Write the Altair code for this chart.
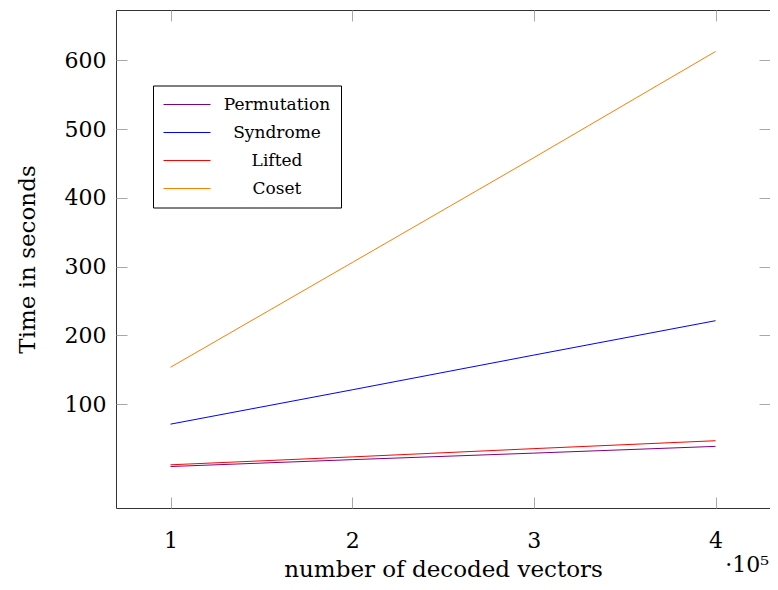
import altair as alt
import pandas as pd

# ---- data ----
vectors = [100000, 200000, 300000, 400000]
series_names = ["Permutation", "Syndrome", "Lifted", "Coset"]
permutation = [9.5, 19.5, 29.0, 38.8]
syndrome = [71.1, 121.0, 171.5, 221.5]
lifted = [12.0, 23.5, 35.5, 47.0]
coset = [153.8, 306.0, 458.5, 612.9]
series_colors = ["#800080", "#0000ff", "#ff0000", "#ff8000"]
x_ticks = [100000, 200000, 300000, 400000]
y_ticks = [100, 200, 300, 400, 500, 600]
x_multiplier = ["·10⁵"]

rows = []
for name, vals in zip(series_names, [permutation, syndrome, lifted, coset]):
    for v, t in zip(vectors, vals):
        rows.append({"vectors": v, "time": t, "series": name})
df = pd.DataFrame(rows)

W, H = 654, 498
PAD_L = 108
FONT = "'DejaVu Serif', 'Liberation Serif', serif"
TICK = "#a8a8a8"

x_scale = alt.Scale(domain=[70000, 430000], nice=False, zero=False)
y_scale = alt.Scale(domain=[-50.8, 673.2], nice=False, zero=False)

lines = alt.Chart(df).mark_line(strokeWidth=1).encode(
    x=alt.X(
        "vectors:Q",
        scale=x_scale,
        axis=alt.Axis(
            orient="bottom", values=x_ticks, labelExpr="datum.value / 100000",
            title="number of decoded vectors", offset=-11, tickSize=11,
            tickColor=TICK, domain=False, grid=False, labelPadding=39,
            labelBaseline="alphabetic", labelFont=FONT, labelFontSize=22,
            labelColor="black", titleFont=FONT, titleFontSize=23,
            titleFontWeight="normal", titleColor="black", titleY=79,
            titleBaseline="alphabetic",
        ),
    ),
    y=alt.Y(
        "time:Q",
        scale=y_scale,
        axis=alt.Axis(
            orient="left", values=y_ticks, title="Time in seconds",
            offset=-11, tickSize=11, tickColor=TICK, domain=False, grid=False,
            labelPadding=10, labelFont=FONT, labelFontSize=22,
            labelColor="black", titleFont=FONT, titleFontSize=23,
            titleFontWeight="normal", titleColor="black",
            titleX=27 - (8 + PAD_L + 11), titleY=H / 2,
            titleBaseline="middle", titleAlign="center",
        ),
    ),
    color=alt.Color(
        "series:N",
        scale=alt.Scale(domain=series_names, range=series_colors),
        sort=series_names,
        legend=alt.Legend(
            title=None, orient="none", legendX=37, legendY=75.5,
            direction="vertical", strokeColor="#000000", fillColor="white",
            padding=10, symbolType="stroke", symbolSize=2209,
            symbolStrokeWidth=1, labelFont=FONT, labelFontSize=17,
            labelColor="black", labelAlign="center", labelOffset=66,
            clipHeight=18, rowPadding=10, cornerRadius=0,
        ),
    ),
)

frame = alt.Chart(df).mark_line(opacity=0).encode(
    x=alt.X(
        "vectors:Q", scale=x_scale,
        axis=alt.Axis(orient="top", values=x_ticks, labels=False, title=None,
                      offset=-11, tickSize=11, tickColor=TICK, domain=False,
                      grid=False),
    ),
    y=alt.Y(
        "time:Q", scale=y_scale,
        axis=alt.Axis(orient="right", values=y_ticks, labels=False, title=None,
                      offset=-11, tickSize=11, tickColor=TICK, domain=False,
                      grid=False),
    ),
    detail="series:N",
)

mult = alt.Chart(pd.DataFrame({"t": x_multiplier})).mark_text(
    align="right", baseline="alphabetic", font=FONT, fontSize=22, color="black"
).encode(text="t:N", x=alt.value(W - 1), y=alt.value(H + 64))

chart = (
    alt.layer(lines, frame, mult)
    .resolve_axis(x="independent", y="independent")
    .properties(
        width=W, height=H,
        autosize=alt.AutoSizeParams(type="none"),
        padding={"left": PAD_L, "top": 2, "right": 0, "bottom": 72},
    )
    .configure_view(stroke="#333333", strokeWidth=1)
)

chart.save("out.html", embed_options={"renderer": "svg", "actions": False})
